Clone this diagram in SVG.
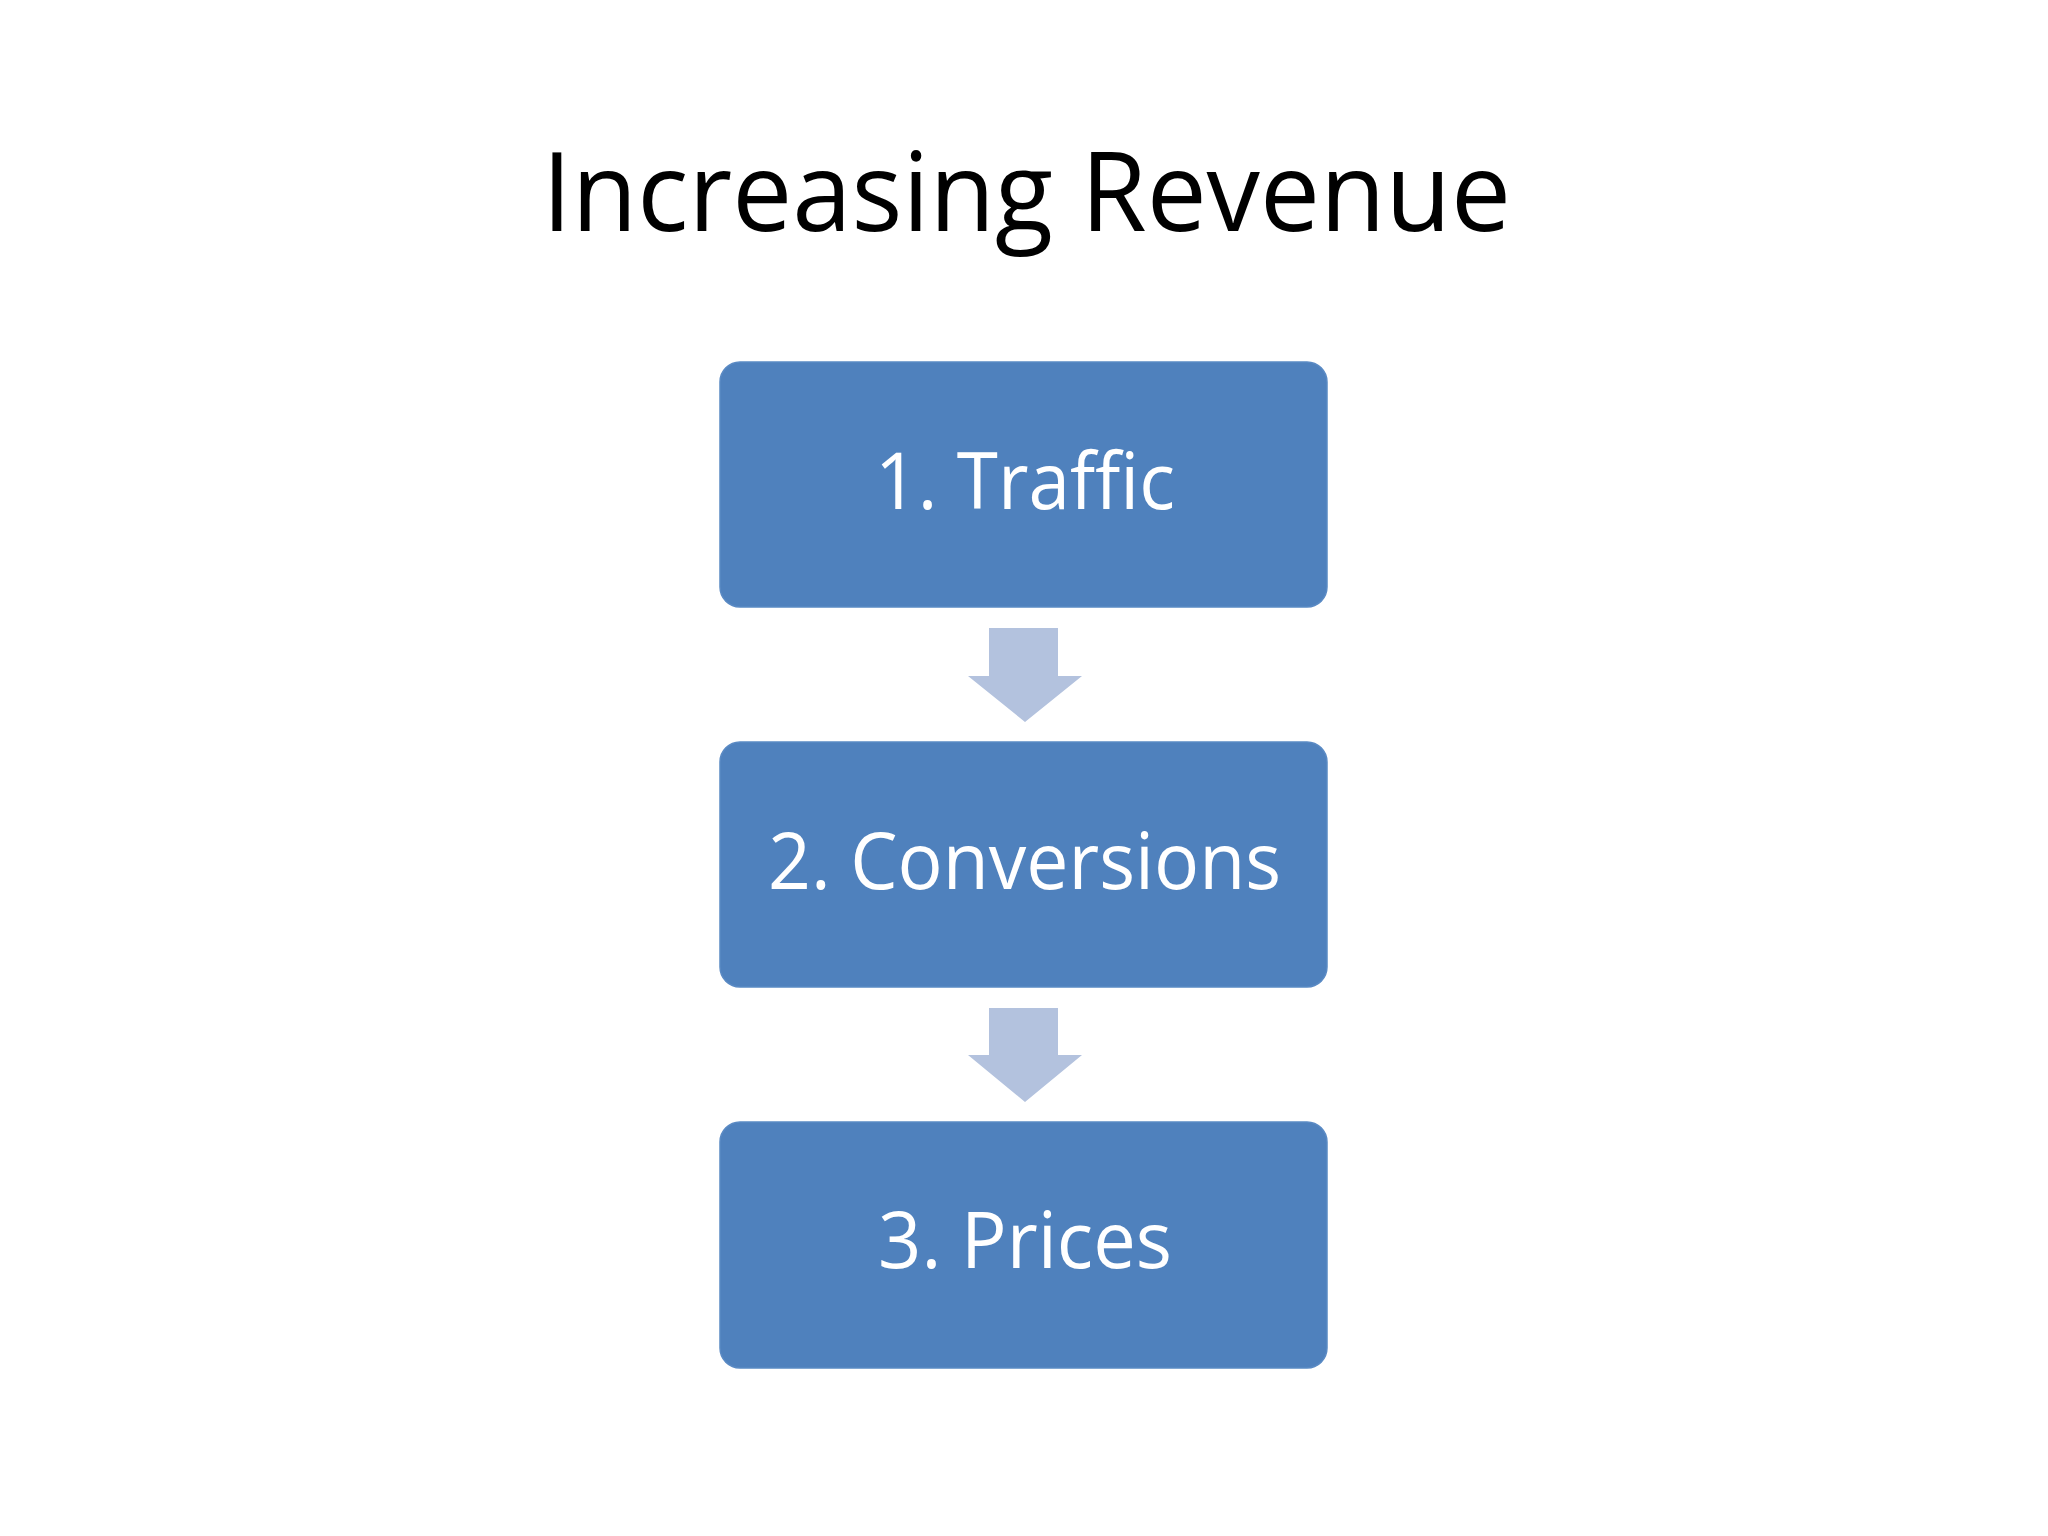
<svg xmlns="http://www.w3.org/2000/svg" width="2048" height="1536" viewBox="0 0 2048 1536">
<style>
.box{fill:#4F81BD;stroke:#5A8AC4;stroke-width:1.5}
.lbl{font-family:"Open Sans","Liberation Sans",sans-serif;font-size:78px;fill:#FFFFFF}
.title{font-family:"Open Sans","Liberation Sans",sans-serif;font-size:109px;fill:#000000}
.arr{fill:#B3C2DE}
</style>
<rect width="2048" height="1536" fill="#FFFFFF"/>
<text class="title" x="542" y="231" textLength="969" lengthAdjust="spacingAndGlyphs">Increasing Revenue</text>
<g id="connectors">
<polygon class="arr" points="989,628 1058,628 1058,676 1082,676 1025,722 968,676 989,676"/>
<polygon class="arr" points="989,1008 1058,1008 1058,1055 1082,1055 1025,1102 968,1055 989,1055"/>
</g>
<g id="node1">
<rect class="box" x="720" y="362" width="607" height="245" rx="20"/>
<text class="lbl" x="875" y="509" textLength="300" lengthAdjust="spacingAndGlyphs">1. Traffic</text>
</g>
<g id="node2">
<rect class="box" x="720" y="742" width="607" height="245" rx="20"/>
<text class="lbl" x="768" y="889" textLength="513" lengthAdjust="spacingAndGlyphs">2. Conversions</text>
</g>
<g id="node3">
<rect class="box" x="720" y="1122" width="607" height="246" rx="20"/>
<text class="lbl" x="878" y="1268" textLength="294" lengthAdjust="spacingAndGlyphs">3. Prices</text>
</g>
</svg>
